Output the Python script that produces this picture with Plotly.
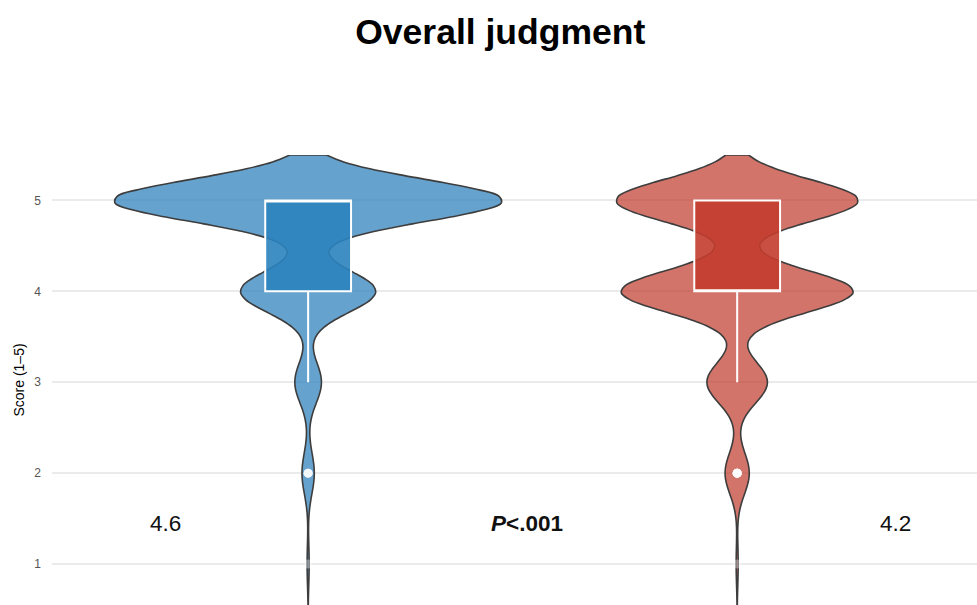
import numpy as np
import plotly.graph_objects as go

# Likert scores and how many responses each group gave per score
SCORES = [1, 2, 3, 4, 5]
GROUPS = ["Group A", "Group B"]
COUNTS_A = [1, 6, 13, 66, 190]
COUNTS_B = [1, 12, 30, 115, 120]
MEAN_LABELS = ["4.6", "4.2"]
P_LABEL = "<b><i>P</i>&lt;.001</b>"
TITLE = "Overall judgment"
Y_TITLE = "Score (1–5)"
Y_TICKS = [1, 2, 3, 4, 5]

violin_fill = ["rgba(49,130,189,0.74)", "rgba(192,57,43,0.70)"]
box_fill = ["rgba(43,131,190,0.9)", "rgba(194,60,45,0.9)"]
violin_width = [0.9, 0.56]

fig = go.Figure()
for i, (grp, counts) in enumerate(zip(GROUPS, [COUNTS_A, COUNTS_B])):
    sample = np.repeat(SCORES, counts)
    fig.add_trace(go.Violin(
        x=[grp] * len(sample), y=sample,
        fillcolor=violin_fill[i],
        line=dict(color="#3d3d3d", width=1.6),
        points=False, box_visible=False, meanline_visible=False,
        bandwidth=0.23, spanmode="manual", span=[0.5, 5.5],
        scalemode="width", width=violin_width[i],
        showlegend=False, hoverinfo="skip",
    ))
    fig.add_trace(go.Box(
        x=[grp] * len(sample), y=sample,
        fillcolor=box_fill[i],
        line=dict(color="white", width=2),
        whiskerwidth=0, width=0.2,
        boxpoints="outliers",
        marker=dict(color="white", size=9, opacity=0.35),
        showlegend=False,
    ))

# Group means either side, test result in the middle
ann_x = [-0.333, 1.368]
for x, txt in zip(ann_x, MEAN_LABELS):
    fig.add_annotation(x=x, y=1.45, text=txt, showarrow=False,
                       font=dict(size=22.5, color="#111", family="Liberation Sans, Arial"))
fig.add_annotation(x=0.51, y=1.45, text=P_LABEL, showarrow=False,
                   font=dict(size=22.5, color="#111", family="Liberation Sans, Arial"))

fig.update_layout(
    width=977, height=605,
    margin=dict(l=52, r=0, t=155, b=0),
    paper_bgcolor="white", plot_bgcolor="white",
    violinmode="overlay", boxmode="overlay",
    font=dict(family="Liberation Sans, Arial", color="#222"),
    title=dict(text=f"<b>{TITLE}</b>", x=0.512, xanchor="center",
               y=1 - 32 / 605, yanchor="middle", yref="container",
               font=dict(size=35.5, color="black")),
    xaxis=dict(range=[-0.597, 1.559], showticklabels=False, showgrid=False,
               zeroline=False, showline=False, ticks=""),
    yaxis=dict(range=[0.55, 5.5], tickvals=Y_TICKS, showgrid=True,
               gridcolor="#ebebeb", gridwidth=2, zeroline=False, showline=False,
               tickfont=dict(size=12, color="#555"), ticks="", ticklabelstandoff=10,
               title=dict(text=Y_TITLE, font=dict(size=14, color="black"), standoff=6)),
)

fig.write_html("out.html")
